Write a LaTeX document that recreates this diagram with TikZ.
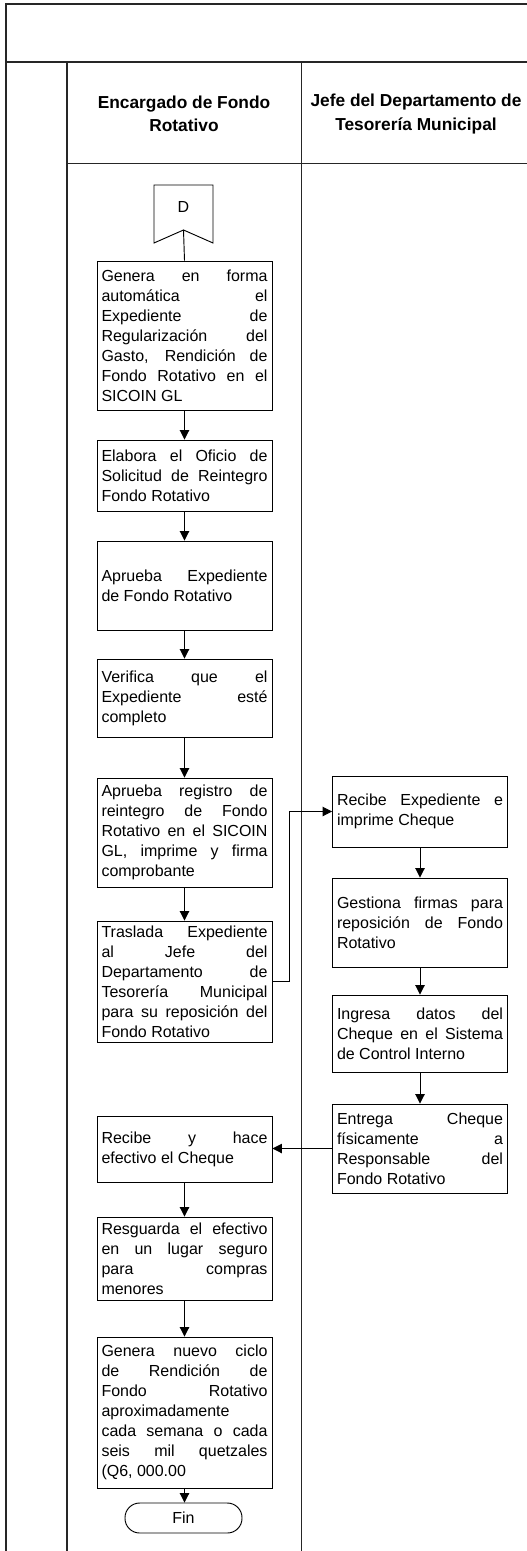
\documentclass[tikz,border=0pt]{standalone}
\usepackage{fontspec}
\setmainfont{Liberation Sans}
\usepackage{tikz}
\usetikzlibrary{arrows.meta}

\begin{document}
\begin{tikzpicture}[x=0.75pt,y=-0.75pt,
    frame/.style={line width=1.1pt,black!85},
    lane/.style={line width=0.7pt,black!85},
    procbox/.style={draw,line width=0.7pt,text width=124.5pt,inner xsep=3.375pt,
      inner ysep=1pt,align=justify,minimum height=#1*0.75pt,
      font={\fontsize{12}{15}\selectfont\tolerance=10000\hbadness=10000}},
    lanehead/.style={align=center,font={\bfseries\fontsize{13}{17.5}\selectfont}},
    flow/.style={line width=0.7pt,-{Triangle[length=7pt,width=7pt]}},
    plain/.style={line width=0.7pt}]
          \useasboundingbox (0,0) rectangle (527,1551);

          %%    % swimlanes
          \draw[frame] (530,4) -- (6,4) -- (6,1555);
          \draw[frame] (6,62) -- (530,62);
          \draw[frame] (67,62) -- (67,1555);
          \draw[lane] (301,62) -- (301,1555);
          \draw[lane] (67,163) -- (530,163);
          \node[lanehead] (headA) at (184,114) {Encargado de Fondo\\Rotativo};
          \node[lanehead] (headB) at (416,114) {Jefe del Departamento de\\Tesorería Municipal};

          %%    % off-page connector
          \draw[plain] (154,185) -- (213,185) -- (213,243) -- (183.5,230) -- (154,243) -- cycle;
          \coordinate (dnotch) at (183.5,230);
          \node[font=\fontsize{12}{15}\selectfont] (offD) at (183.5,207) {D};

          %%    % Encargado de Fondo Rotativo
          \node[procbox=149] (b1) at (184.5,335.5) {Genera en forma\linebreak automática el\linebreak Expediente de\linebreak Regularización del\linebreak Gasto, Rendición de\linebreak Fondo Rotativo en el\linebreak SICOIN GL};
          \node[procbox=71] (b2) at (184.5,475.5) {Elabora el Oficio de\linebreak Solicitud de Reintegro\linebreak Fondo Rotativo};
          \node[procbox=89] (b3) at (184.5,585.5) {Aprueba Expediente\linebreak de Fondo Rotativo};
          \node[procbox=78] (b4) at (184.5,698) {Verifica que el\linebreak Expediente esté\linebreak completo};
          \node[procbox=109] (b5) at (184.5,832.5) {Aprueba registro de\linebreak reintegro de Fondo\linebreak Rotativo en el SICOIN\linebreak GL, imprime y firma\linebreak comprobante};
          \node[procbox=121] (b6) at (184.5,981.5) {Traslada Expediente\linebreak al Jefe del\linebreak Departamento de\linebreak Tesorería Municipal\linebreak para su reposición del\linebreak Fondo Rotativo};
          \node[procbox=66] (b7) at (184.5,1149) {Recibe y hace\linebreak efectivo el Cheque};
          \node[procbox=83] (b8) at (184.5,1258.5) {Resguarda el efectivo\linebreak en un lugar seguro\linebreak para compras\linebreak menores};
          \node[procbox=151] (b9) at (184.5,1412.5) {Genera nuevo ciclo\linebreak de Rendición de\linebreak Fondo Rotativo\linebreak aproximadamente\linebreak cada semana o cada\linebreak seis mil quetzales\linebreak (Q6, 000.00};
          \node[draw,line width=0.7pt,rounded corners=11pt,minimum width=87.75pt,minimum height=22.5pt,
            font=\fontsize{12}{15}\selectfont] (fin) at (183.5,1518) {Fin};

          %%    % Jefe del Departamento de Tesorería Municipal
          \node[procbox=71] (r1) at (420,811.5) {Recibe Expediente e\linebreak imprime Cheque};
          \node[procbox=89] (r2) at (420,922.5) {Gestiona firmas para\linebreak reposición de Fondo\linebreak Rotativo};
          \node[procbox=77] (r3) at (420,1033.5) {Ingresa datos del\linebreak Cheque en el Sistema\linebreak de Control Interno};
          \node[procbox=89] (r4) at (420,1148.5) {Entrega Cheque\linebreak físicamente a\linebreak Responsable del\linebreak Fondo Rotativo};

          %%    % connectors
          \draw[plain] (dnotch) -- (b1.north);
          \foreach \a/\b in {b1/b2,b2/b3,b3/b4,b4/b5,b5/b6,b7/b8,b8/b9,r1/r2,r2/r3,r3/r4} {
            \draw[flow] (\a.south) -- (\b.north);
          }
          \draw[flow] (b9.south) -- (b9.south |- fin.north);
          \draw[flow] (b6.east) -- ++(17,0) |- (r1.west);
          \draw[flow] (r4.west) -- (r4.west -| b7.east);

\end{tikzpicture}
\end{document}
